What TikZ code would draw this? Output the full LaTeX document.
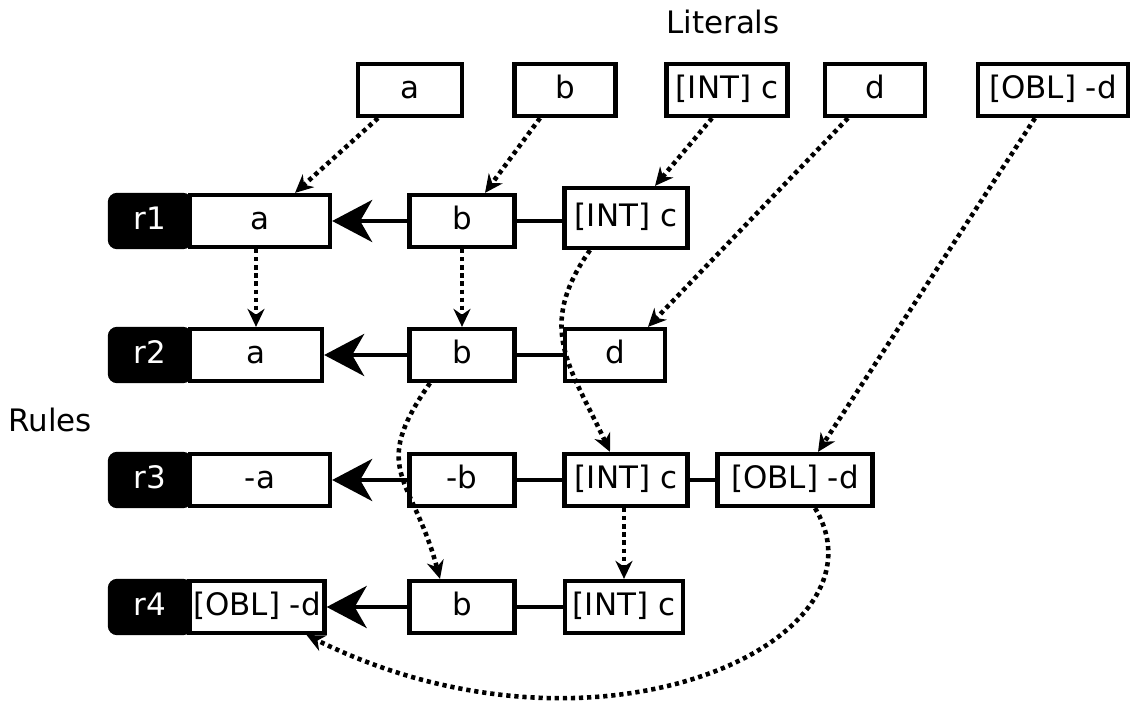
\documentclass[tikz,border=0pt]{standalone}
\usepackage{fontspec}
\setmainfont{DejaVu Sans}
\usetikzlibrary{arrows.meta}

\begin{document}
\fontsize{8.8}{10}\selectfont
\begin{tikzpicture}[
    x=0.01cm, y=-0.01cm,
    box/.style={rectangle, draw, fill=white, line width=1.2pt, minimum height=0.52cm, inner sep=0pt, text height=0.75em, text depth=0.22em},
    tagbox/.style={rectangle, draw, fill=black, text=white, line width=1.2pt, minimum width=0.8cm, minimum height=0.52cm, inner sep=0pt, text height=0.75em, text depth=0.22em, rounded corners=2pt},
    link/.style={line width=1.2pt},
    arrow/.style={-{Stealth[length=0.4cm, width=0.42cm, inset=0.12cm]}, line width=1.2pt},
    dots/.style={-{Stealth[length=0.18cm, width=0.17cm]}, line width=1.3pt, dash pattern=on 1.2pt off 1.1pt}
]
\useasboundingbox (0,0) rectangle (1133,706);

% headings
\node (littitle) at (723,22) {Literals};
\node (ruletitle) at (50,420) {Rules};

% literals
\node[box, minimum width=1.04cm] (lita) at (410,90) {a};
\node[box, minimum width=1.01cm] (litb) at (565,90) {b};
\node[box, minimum width=1.21cm] (litc) at (727,90) {[INT] c};
\node[box, minimum width=1.00cm] (litd) at (875,90) {d};
\node[box, minimum width=1.50cm] (lite) at (1053,90) {[OBL] -d};

% rule r1
\node[tagbox] (r1tag) at (150,221) {r1};
\node[box, minimum width=1.40cm] (r1a) at (260,221) {a};
\node[box, minimum width=1.05cm] (r1b) at (462,221) {b};
\node[box, minimum width=1.23cm, minimum height=0.60cm] (r1c) at (626,218) {[INT] c};

% rule r2
\node[tagbox] (r2tag) at (150,355) {r2};
\node[box, minimum width=1.32cm] (r2a) at (256,355) {a};
\node[box, minimum width=1.05cm] (r2b) at (462,355) {b};
\node[box, minimum width=1.00cm] (r2d) at (615,355) {d};

% rule r3
\node[tagbox] (r3tag) at (150,480) {r3};
\node[box, minimum width=1.40cm] (r3a) at (260,480) {-a};
\node[box, minimum width=1.05cm] (r3b) at (462,480) {-b};
\node[box, minimum width=1.23cm] (r3c) at (626,480) {[INT] c};
\node[box, minimum width=1.55cm] (r3e) at (795,480) {[OBL] -d};

% rule r4
\node[tagbox] (r4tag) at (150,607) {r4};
\node[box, minimum width=1.35cm] (r4e) at (257,607) {[OBL] -d};
\node[box, minimum width=1.05cm] (r4b) at (462,607) {b};
\node[box, minimum width=1.18cm] (r4c) at (624,607) {[INT] c};

% rule bodies
\draw[arrow] (r1b) -- (r1a);
\draw[link] (r1b.east) -- (r1b.east -| r1c.west);
\draw[arrow] (r2b) -- (r2a);
\draw[link] (r2b) -- (r2d);
\draw[arrow] (r3b) -- (r3a);
\draw[link] (r3b) -- (r3c);
\draw[link] (r3c) -- (r3e);
\draw[arrow] (r4b) -- (r4e);
\draw[link] (r4b) -- (r4c);

% literals into rules
\draw[dots] ([xshift=-0.32cm]lita.south) -- ([xshift=0.35cm]r1a.north);
\draw[dots] ([xshift=-0.25cm]litb.south) -- ([xshift=0.23cm]r1b.north);
\draw[dots] ([xshift=-0.15cm]litc.south) -- ([xshift=0.29cm]r1c.north);
\draw[dots] ([xshift=-0.27cm]litd.south) -- ([xshift=0.33cm]r2d.north);
\draw[dots] ([xshift=-0.18cm]lite.south) -- ([xshift=0.23cm]r3e.north);

% between rules
\draw[dots] (r2a.north |- r1a.south) -- (r2a.north);
\draw[dots] (r1b.south) -- (r2b.north);
\draw[dots] (r4c.north |- r3c.south) -- (r4c.north);
\draw[dots] ([xshift=-0.36cm]r1c.south) to[out=235, in=115, looseness=1.2] ([xshift=-0.16cm]r3c.north);
\draw[dots] ([xshift=-0.32cm]r2b.south) to[out=235, in=105, looseness=1.4] ([xshift=-0.22cm]r4b.north);
\draw[dots] ([xshift=0.2cm]r3e.south) .. controls (895,640) and (600,780) .. ([xshift=-0.2cm]r4e.south east);

\end{tikzpicture}
\end{document}
